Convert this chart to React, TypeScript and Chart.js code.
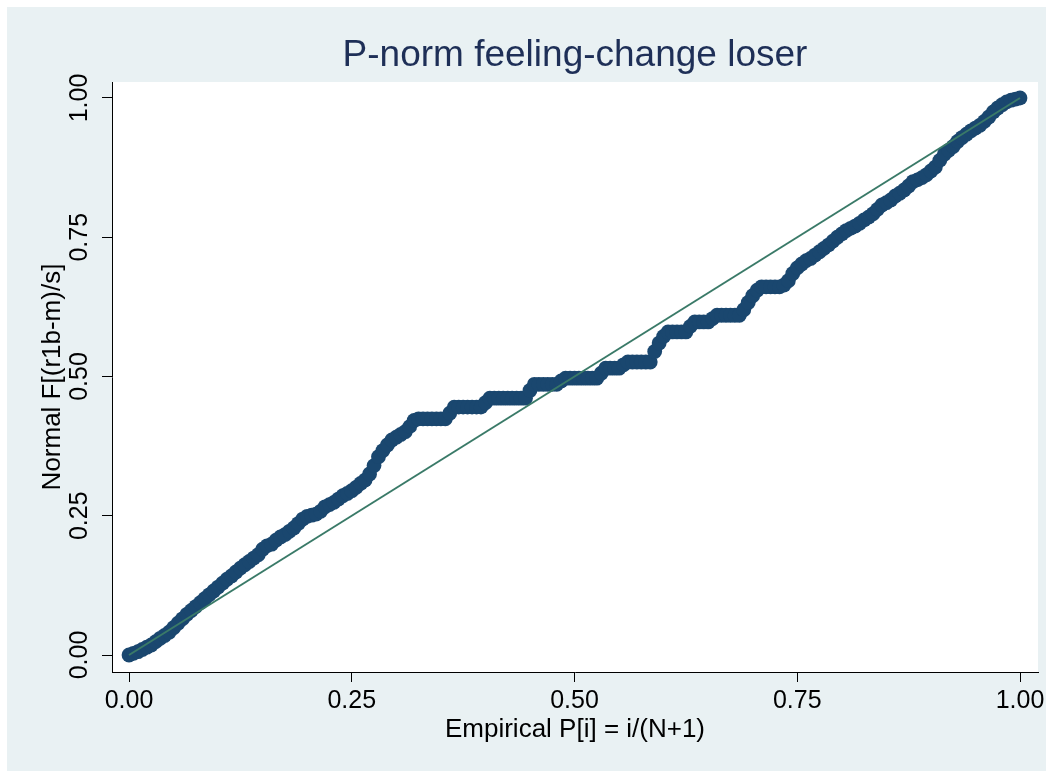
import React, { useEffect, useRef } from "react";
import { Chart, registerables } from "chart.js";

Chart.register(...registerables);

const titleText = "P-norm feeling-change loser";
const xAxisTitle = "Empirical P[i] = i/(N+1)";
const yAxisTitle = "Normal F[(r1b-m)/s]";
const tickValues = [0, 0.25, 0.5, 0.75, 1];

// Empirical P[i] (x)
const empiricalP = [
  0.000, 0.005, 0.010, 0.015, 0.020, 0.025, 0.030, 0.035, 0.040, 0.045,
  0.050, 0.055, 0.060, 0.065, 0.070, 0.075, 0.080, 0.085, 0.090, 0.095,
  0.100, 0.105, 0.110, 0.115, 0.120, 0.125, 0.130, 0.135, 0.140, 0.145,
  0.150, 0.155, 0.160, 0.165, 0.170, 0.175, 0.180, 0.185, 0.190, 0.195,
  0.200, 0.205, 0.210, 0.215, 0.220, 0.225, 0.230, 0.235, 0.240, 0.245,
  0.250, 0.255, 0.260, 0.265, 0.270, 0.275, 0.280, 0.285, 0.290, 0.295,
  0.300, 0.305, 0.310, 0.315, 0.320, 0.325, 0.330, 0.335, 0.340, 0.345,
  0.350, 0.355, 0.360, 0.365, 0.370, 0.375, 0.380, 0.385, 0.390, 0.395,
  0.400, 0.405, 0.410, 0.415, 0.420, 0.425, 0.430, 0.435, 0.440, 0.445,
  0.450, 0.455, 0.460, 0.465, 0.470, 0.475, 0.480, 0.485, 0.490, 0.495,
  0.500, 0.505, 0.510, 0.515, 0.520, 0.525, 0.530, 0.535, 0.540, 0.545,
  0.550, 0.555, 0.560, 0.565, 0.570, 0.575, 0.580, 0.585, 0.590, 0.595,
  0.600, 0.605, 0.610, 0.615, 0.620, 0.625, 0.630, 0.635, 0.640, 0.645,
  0.650, 0.655, 0.660, 0.665, 0.670, 0.675, 0.680, 0.685, 0.690, 0.695,
  0.700, 0.705, 0.710, 0.715, 0.720, 0.725, 0.730, 0.735, 0.740, 0.745,
  0.750, 0.755, 0.760, 0.765, 0.770, 0.775, 0.780, 0.785, 0.790, 0.795,
  0.800, 0.805, 0.810, 0.815, 0.820, 0.825, 0.830, 0.835, 0.840, 0.845,
  0.850, 0.855, 0.860, 0.865, 0.870, 0.875, 0.880, 0.885, 0.890, 0.895,
  0.900, 0.905, 0.910, 0.915, 0.920, 0.925, 0.930, 0.935, 0.940, 0.945,
  0.950, 0.955, 0.960, 0.965, 0.970, 0.975, 0.980, 0.985, 0.990, 0.995,
  1.000,
];

// Normal F[(r1b-m)/s] (y)
const normalF = [
  0.000, 0.003, 0.006, 0.010, 0.014, 0.018, 0.024, 0.030, 0.035, 0.041,
  0.049, 0.057, 0.065, 0.073, 0.080, 0.087, 0.094, 0.101, 0.108, 0.115,
  0.122, 0.129, 0.136, 0.142, 0.149, 0.156, 0.162, 0.168, 0.174, 0.180,
  0.190, 0.196, 0.199, 0.206, 0.212, 0.216, 0.222, 0.228, 0.236, 0.244,
  0.249, 0.251, 0.253, 0.258, 0.266, 0.270, 0.274, 0.280, 0.286, 0.290,
  0.295, 0.301, 0.308, 0.314, 0.325, 0.340, 0.356, 0.367, 0.377, 0.386,
  0.391, 0.396, 0.401, 0.410, 0.421, 0.424, 0.424, 0.424, 0.424, 0.424,
  0.424, 0.424, 0.434, 0.445, 0.445, 0.445, 0.445, 0.445, 0.445, 0.445,
  0.453, 0.461, 0.461, 0.461, 0.461, 0.461, 0.461, 0.461, 0.461, 0.461,
  0.475, 0.486, 0.486, 0.486, 0.486, 0.486, 0.486, 0.492, 0.497, 0.497,
  0.497, 0.497, 0.497, 0.497, 0.497, 0.497, 0.506, 0.515, 0.515, 0.515,
  0.515, 0.521, 0.526, 0.526, 0.526, 0.526, 0.526, 0.526, 0.545, 0.560,
  0.572, 0.580, 0.580, 0.580, 0.580, 0.580, 0.590, 0.598, 0.598, 0.598,
  0.598, 0.604, 0.610, 0.610, 0.610, 0.610, 0.610, 0.610, 0.620, 0.633,
  0.645, 0.655, 0.661, 0.661, 0.661, 0.661, 0.661, 0.664, 0.672, 0.685,
  0.695, 0.702, 0.708, 0.712, 0.718, 0.724, 0.730, 0.736, 0.743, 0.750,
  0.756, 0.762, 0.766, 0.770, 0.775, 0.781, 0.786, 0.792, 0.800, 0.808,
  0.812, 0.817, 0.824, 0.829, 0.835, 0.842, 0.850, 0.853, 0.857, 0.862,
  0.869, 0.876, 0.888, 0.899, 0.906, 0.913, 0.922, 0.929, 0.935, 0.941,
  0.946, 0.951, 0.958, 0.966, 0.975, 0.982, 0.988, 0.993, 0.996, 0.998,
  1.000,
];

// 45-degree reference line end points
const refLineX = [0, 1];
const refLineY = [0, 1];

const FONT = "'Liberation Sans', Arial, Helvetica, sans-serif";

export default function App() {
  const ref = useRef<HTMLCanvasElement>(null);

  useEffect(() => {
    const canvas = ref.current;
    if (!canvas) return;

    const bgPlugin = {
      id: "stataBackground",
      beforeDraw(chart: any) {
        const { ctx, chartArea } = chart;
        ctx.save();
        ctx.fillStyle = "#ffffff";
        ctx.fillRect(0, 0, chart.width, chart.height);
        ctx.fillStyle = "#E9F1F3";
        ctx.fillRect(7, 7, 1039, 764);
        ctx.fillStyle = "#ffffff";
        ctx.fillRect(
          chartArea.left,
          chartArea.top,
          chartArea.right - chartArea.left,
          chartArea.bottom - chartArea.top
        );
        ctx.restore();
      },
    };

    const chart = new Chart(canvas, {
      type: "scatter",
      data: {
        datasets: [
          {
            data: refLineX.map((x, i) => ({ x, y: refLineY[i] })),
            showLine: true,
            borderColor: "#3A7A68",
            borderWidth: 2,
            pointRadius: 0,
            pointHoverRadius: 0,
            order: 0,
          },
          {
            data: empiricalP.map((x, i) => ({ x, y: normalF[i] })),
            backgroundColor: "#1A476F",
            borderColor: "#1A476F",
            pointRadius: 7.4,
            pointHoverRadius: 7.4,
            pointBorderWidth: 0,
            order: 1,
          },
        ],
      },
      options: {
        responsive: false,
        animation: false,
        events: [],
        layout: { padding: { left: 0, right: 15, top: 0, bottom: 0 } },
        plugins: {
          legend: { display: false },
          tooltip: { enabled: false },
          title: {
            display: true,
            fullSize: false,
            text: titleText,
            color: "#1E2F57",
            font: { family: FONT, size: 37, weight: "normal" },
            padding: { top: 34, bottom: 3.6 },
          },
        },
        scales: {
          x: {
            type: "linear",
            min: -0.0191,
            max: 1.0202,
            afterBuildTicks: (s: any) => {
              s.ticks = tickValues.map((v) => ({ value: v }));
            },
            afterFit: (s: any) => {
              s.height = 99;
            },
            ticks: {
              callback: (v: any) => Number(v).toFixed(2),
              color: "#000000",
              font: { family: FONT, size: 25 },
              padding: 4,
              minRotation: 0,
              maxRotation: 0,
              autoSkip: false,
            },
            grid: {
              drawOnChartArea: false,
              drawTicks: true,
              tickLength: 10,
              color: "#000000",
              tickColor: "#000000",
              lineWidth: 1,
            },
            border: { display: true, color: "#000000", width: 1 },
            title: {
              display: true,
              text: xAxisTitle,
              color: "#000000",
              font: { family: FONT, size: 26 },
              padding: { top: 0, bottom: 25.6 },
            },
          },
          y: {
            type: "linear",
            min: -0.0305,
            max: 1.0287,
            afterBuildTicks: (s: any) => {
              s.ticks = tickValues.map((v) => ({ value: v }));
            },
            afterFit: (s: any) => {
              s.width = 112;
            },
            ticks: {
              callback: (v: any) => Number(v).toFixed(2),
              color: "#000000",
              font: { family: FONT, size: 25 },
              padding: -2,
              minRotation: 90,
              maxRotation: 90,
              crossAlign: "center",
              autoSkip: false,
            },
            grid: {
              drawOnChartArea: false,
              drawTicks: true,
              tickLength: 10,
              color: "#000000",
              tickColor: "#000000",
              lineWidth: 1,
            },
            border: { display: true, color: "#000000", width: 1 },
            title: {
              display: true,
              text: yAxisTitle,
              color: "#000000",
              font: { family: FONT, size: 26 },
              padding: { top: 37.2, bottom: 0 },
            },
          },
        },
      },
      plugins: [bgPlugin],
    } as any);

    return () => {
      chart.destroy();
    };
  }, []);

  return (
    <div
      style={{
        position: "fixed",
        left: 0,
        top: 0,
        width: 1053,
        height: 771,
        background: "#ffffff",
      }}
    >
      <canvas
        ref={ref}
        width={1053}
        height={771}
        style={{ display: "block", width: 1053, height: 771 }}
      />
    </div>
  );
}
